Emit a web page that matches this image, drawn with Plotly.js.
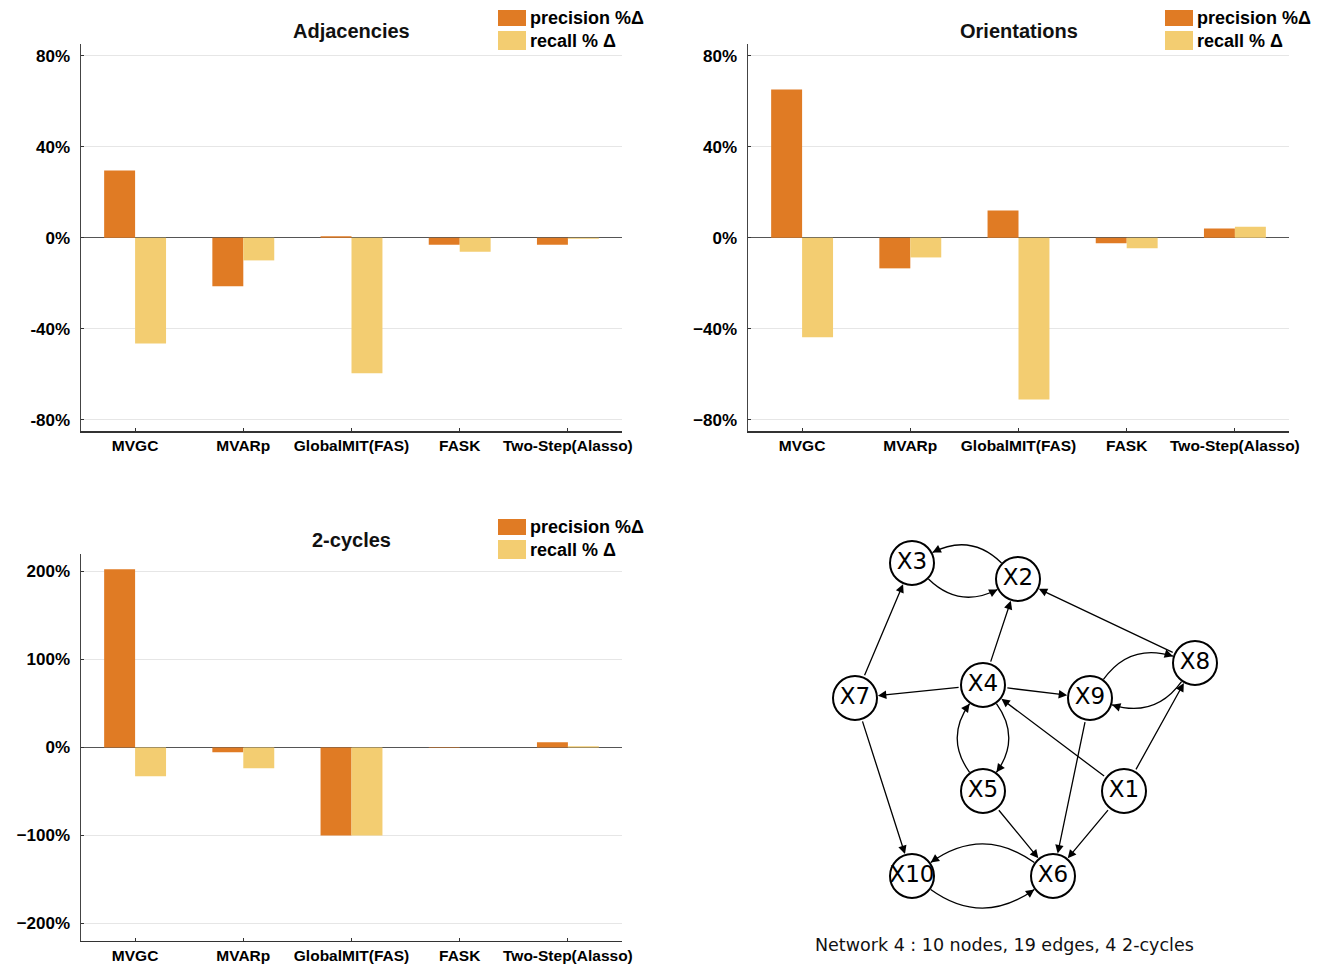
<!DOCTYPE html>
<html>
<head>
<meta charset="utf-8">
<script src="https://cdn.plot.ly/plotly-3.0.1.min.js"></script>
<style>html,body{margin:0;padding:0;background:#fff;}#chart{width:1328px;height:965px;}</style>
</head>
<body>
<div id="chart"></div>
<script>
// ---------------- DATA ----------------
const categories = ['MVGC', 'MVARp', 'GlobalMIT(FAS)', 'FASK', 'Two-Step(Alasso)'];

const adjPrecision = [29.5, -21.4, 0.6, -3.1, -3.1];
const adjRecall    = [-46.5, -10.0, -59.6, -6.2, -0.5];

const oriPrecision = [65.1, -13.5, 11.9, -2.5, 4.0];
const oriRecall    = [-43.8, -8.7, -71.1, -4.7, 4.8];

const cycPrecision = [202.6, -5.3, -100, -0.6, 6.0];
const cycRecall    = [-32.6, -23.5, -100, 0, 1.5];

const adjTickVals = [80, 40, 0, -40, -80];
const adjTickText = ['80%', '40%', '0%', '-40%', '-80%'];
const oriTickVals = [80, 40, 0, -40, -80];
const oriTickText = ['80%', '40%', '0%', '\u221240%', '\u221280%'];
const cycTickVals = [200, 100, 0, -100, -200];
const cycTickText = ['200%', '100%', '0%', '\u2212100%', '\u2212200%'];

const panelTitles = ['Adjacencies', 'Orientations', '2-cycles'];
const seriesNames = ['precision %\u0394', 'recall % \u0394'];

// network diagram
const nodeNames = ['X1', 'X2', 'X3', 'X4', 'X5', 'X6', 'X7', 'X8', 'X9', 'X10'];
const nodeX     = [1124, 1018, 912, 983, 983, 1053, 855, 1195, 1090, 912];
const nodeY     = [791, 579, 563, 685, 791, 876, 698, 663, 698, 876];

const edgeFrom = ['X2', 'X3', 'X7', 'X4', 'X8', 'X4', 'X4', 'X9', 'X8', 'X1', 'X1', 'X4', 'X5', 'X7', 'X5', 'X9', 'X1', 'X6', 'X10'];
const edgeTo   = ['X3', 'X2', 'X3', 'X2', 'X2', 'X7', 'X9', 'X8', 'X9', 'X4', 'X8', 'X5', 'X4', 'X10', 'X6', 'X6', 'X6', 'X10', 'X6'];
const edgeBend = [1, 1, 0, 0, 0, 0, 0, -1, -1, 0, 0, -1, -1, 0, 0, 0, 0, 1, 1];

const caption = 'Network 4 : 10 nodes, 19 edges, 4 2-cycles';

// ---------------- STYLE ----------------
const W = 1328, H = 965;
const px = x => x / W;
const py = y => 1 - y / H;
const ORANGE = '#E07B24';
const YELLOW = '#F3CD71';
const FONT = 'Liberation Sans, Arial, Helvetica, sans-serif';
const NODE_R = 22;

const traces = [];
const panels = [
  {p: adjPrecision, r: adjRecall, xa: 'x', ya: 'y'},
  {p: oriPrecision, r: oriRecall, xa: 'x2', ya: 'y2'},
  {p: cycPrecision, r: cycRecall, xa: 'x3', ya: 'y3'}
];
panels.forEach(pn => {
  traces.push({type: 'bar', x: categories, y: pn.p, name: seriesNames[0], xaxis: pn.xa, yaxis: pn.ya,
    marker: {color: ORANGE, line: {width: 0}}, showlegend: false});
  traces.push({type: 'bar', x: categories, y: pn.r, name: seriesNames[1], xaxis: pn.xa, yaxis: pn.ya,
    marker: {color: YELLOW, line: {width: 0}}, showlegend: false});
});

// nodes
traces.push({
  type: 'scatter', mode: 'markers+text', x: nodeX, y: nodeY, text: nodeNames,
  xaxis: 'x4', yaxis: 'y4', showlegend: false, cliponaxis: false, hoverinfo: 'skip',
  marker: {size: 2 * NODE_R, color: 'white', line: {color: '#000', width: 2}},
  textposition: 'middle center',
  textfont: {family: 'DejaVu Sans, sans-serif', size: 23, color: '#000'}
});

function xAxis(domain) {
  return {
    domain: domain, range: [-0.5, 4.5], type: 'category',
    showline: true, linecolor: '#333', linewidth: 1.5,
    ticks: 'inside', ticklen: 3, tickcolor: '#333', tickwidth: 1,
    showgrid: false, zeroline: false, fixedrange: true,
    tickfont: {family: FONT, size: 15.5, color: '#000', weight: 'bold'},
    ticklabelstandoff: 0
  };
}
function yAxis(domain, range, vals, text) {
  return {
    domain: domain, range: range, autorange: false,
    tickmode: 'array', tickvals: vals, ticktext: text,
    showline: true, linecolor: '#444', linewidth: 1.5,
    ticks: 'inside', ticklen: 3, tickcolor: '#333', tickwidth: 1,
    showgrid: true, gridcolor: '#e6e6e6', gridwidth: 1.5,
    zeroline: true, zerolinecolor: '#555', zerolinewidth: 1.5,
    tickfont: {family: FONT, size: 17, color: '#000', weight: 'bold'},
    ticklabelstandoff: 6, fixedrange: true
  };
}

const xd1 = [px(81), px(622)];
const xd2 = [px(748), px(1289)];
const ydTop = [py(431), py(44.3)];
const ydBot = [py(940.7), py(554.3)];

const layout = {
  width: W, height: H,
  margin: {l: 0, r: 0, t: 0, b: 0, pad: 0},
  paper_bgcolor: 'white', plot_bgcolor: 'white',
  barmode: 'group', bargap: 0.428, bargroupgap: 0,
  showlegend: false,
  xaxis: Object.assign(xAxis(xd1), {anchor: 'y'}),
  yaxis: Object.assign(yAxis(ydTop, [-85, 85], adjTickVals, adjTickText), {anchor: 'x'}),
  xaxis2: Object.assign(xAxis(xd2), {anchor: 'y2'}),
  yaxis2: Object.assign(yAxis(ydTop, [-85, 85], oriTickVals, oriTickText), {anchor: 'x2'}),
  xaxis3: Object.assign(xAxis(xd1), {anchor: 'y3'}),
  yaxis3: Object.assign(yAxis(ydBot, [-219.5, 219.5], cycTickVals, cycTickText), {anchor: 'x3'}),
  xaxis4: {domain: [px(780), px(1240)], range: [780, 1240], visible: false, anchor: 'y4', fixedrange: true},
  yaxis4: {domain: [py(960), py(520)], range: [960, 520], autorange: false, visible: false, anchor: 'x4', fixedrange: true},
  shapes: [], annotations: []
};

// titles and custom legends
const titleCenters = [[351.5, 31], [1018.5, 31], [351.5, 540]];
const legendOrigins = [[498, 10], [1165, 10], [498, 519]];
titleCenters.forEach((c, i) => {
  layout.annotations.push({xref: 'paper', yref: 'paper', x: px(c[0]), y: py(c[1]),
    xanchor: 'center', yanchor: 'middle', showarrow: false, text: panelTitles[i],
    font: {family: FONT, size: 20, color: '#111', weight: 'bold'}});
});
legendOrigins.forEach(o => {
  const [lx, ly] = o;
  layout.shapes.push({type: 'rect', xref: 'paper', yref: 'paper', x0: px(lx), x1: px(lx + 28),
    y0: py(ly), y1: py(ly + 16), fillcolor: ORANGE, line: {width: 0}});
  layout.shapes.push({type: 'rect', xref: 'paper', yref: 'paper', x0: px(lx), x1: px(lx + 28),
    y0: py(ly + 21), y1: py(ly + 40), fillcolor: YELLOW, line: {width: 0}});
  layout.annotations.push({xref: 'paper', yref: 'paper', x: px(lx + 30), y: py(ly + 8),
    xanchor: 'left', yanchor: 'middle', showarrow: false, text: seriesNames[0],
    font: {family: FONT, size: 18, color: '#000', weight: 'bold'}});
  layout.annotations.push({xref: 'paper', yref: 'paper', x: px(lx + 30), y: py(ly + 31),
    xanchor: 'left', yanchor: 'middle', showarrow: false, text: seriesNames[1],
    font: {family: FONT, size: 18, color: '#000', weight: 'bold'}});
});

// edges
const idx = name => nodeNames.indexOf(name);
const K = 0.36;
edgeFrom.forEach((f, i) => {
  const a = idx(f), b = idx(edgeTo[i]);
  const ax = nodeX[a], ay = nodeY[a], bx = nodeX[b], by = nodeY[b];
  if (edgeBend[i] === 0) {
    layout.annotations.push({xref: 'x4', yref: 'y4', axref: 'x4', ayref: 'y4',
      x: bx, y: by, ax: ax, ay: ay, text: '', showarrow: true,
      arrowhead: 2, arrowsize: 1.3, arrowwidth: 1.3, arrowcolor: '#000',
      standoff: NODE_R + 1, startstandoff: NODE_R + 1});
  } else {
    const dx = bx - ax, dy = by - ay;
    const len = Math.hypot(dx, dy);
    const nx = -dy / len * edgeBend[i], ny = dx / len * edgeBend[i];
    const cx = (ax + bx) / 2 + nx * K * len, cy = (ay + by) / 2 + ny * K * len;
    const ua = Math.hypot(cx - ax, cy - ay), ub = Math.hypot(cx - bx, cy - by);
    const sx = ax + (cx - ax) / ua * (NODE_R + 1), sy = ay + (cy - ay) / ua * (NODE_R + 1);
    const ex = bx + (cx - bx) / ub * (NODE_R + 1), ey = by + (cy - by) / ub * (NODE_R + 1);
    layout.shapes.push({type: 'path', xref: 'x4', yref: 'y4', layer: 'below',
      path: `M${sx},${sy} Q${cx},${cy} ${ex},${ey}`,
      line: {color: '#000', width: 1.3}, fillcolor: 'rgba(0,0,0,0)'});
    const tx = ex + (cx - ex) / ub * 8, ty = ey + (cy - ey) / ub * 8;
    layout.annotations.push({xref: 'x4', yref: 'y4', axref: 'x4', ayref: 'y4',
      x: ex, y: ey, ax: tx, ay: ty, text: '', showarrow: true,
      arrowhead: 2, arrowsize: 1.3, arrowwidth: 1.3, arrowcolor: '#000', standoff: 0, startstandoff: 0});
  }
});

layout.annotations.push({xref: 'paper', yref: 'paper', x: px(1004), y: py(945),
  xanchor: 'center', yanchor: 'middle', showarrow: false, text: caption,
  font: {family: 'DejaVu Sans, sans-serif', size: 17.5, color: '#111'}});

Plotly.newPlot('chart', traces, layout, {staticPlot: true, displayModeBar: false});
</script>
</body>
</html>
